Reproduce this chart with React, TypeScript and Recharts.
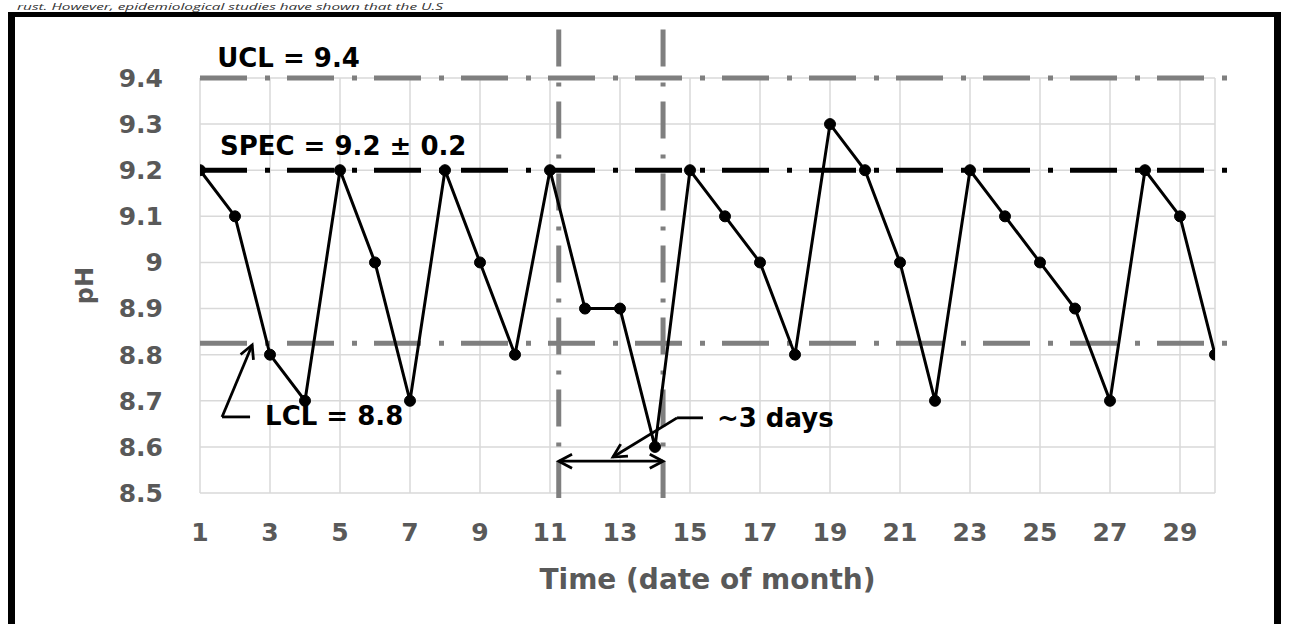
import React from 'react';
import {
  LineChart,
  Line,
  XAxis,
  YAxis,
  CartesianGrid,
  ReferenceLine,
} from 'recharts';

// ---- data ----
const days = [1, 2, 3, 4, 5, 6, 7, 8, 9, 10, 11, 12, 13, 14, 15, 16, 17, 18, 19, 20, 21, 22, 23, 24, 25, 26, 27, 28, 29, 30];
const phValues = [9.2, 9.1, 8.8, 8.7, 9.2, 9.0, 8.7, 9.2, 9.0, 8.8, 9.2, 8.9, 8.9, 8.6, 9.2, 9.1, 9.0, 8.8, 9.3, 9.2, 9.0, 8.7, 9.2, 9.1, 9.0, 8.9, 8.7, 9.2, 9.1, 8.8];
const xTicks = [1, 3, 5, 7, 9, 11, 13, 15, 17, 19, 21, 23, 25, 27, 29];
const yTicks = [8.5, 8.6, 8.7, 8.8, 8.9, 9.0, 9.1, 9.2, 9.3, 9.4];

// control lines (LCL is drawn slightly above 8.8 in the original)
const UCL = 9.4;
const SPEC = 9.2;
const LCL_DRAWN = 8.825;
const limitStartDay = 1;
const limitEndDay = 30.45;

// downtime window (vertical dash-dot lines)
const windowDays = [11.25, 14.23];
const windowTop = 9.505;
const windowBottom = 8.489;
const spanArrowPh = 8.569;

// annotation texts: [text, day, pH baseline]
const annotations: [string, number, number][] = [
  ['UCL = 9.4', 1.49, 9.424],
  ['SPEC = 9.2 ± 0.2', 1.57, 9.233],
  ['LCL = 8.8', 2.86, 8.648],
  ['~3 days', 15.77, 8.643],
];

// LCL leader: horizontal then arrow
const lclLeader = [
  { day: 2.43, ph: 8.665 },
  { day: 1.63, ph: 8.665 },
  { day: 2.49, ph: 8.821 },
];
// "~3 days" leader
const daysLeader = [
  { day: 15.37, ph: 8.663 },
  { day: 14.63, ph: 8.663 },
  { day: 12.8, ph: 8.578 },
];

const chartData = days.map((d, i) => ({ day: d, ph: phValues[i] }));

const GRAY = '#7f7f7f';
const TICK_COLOR = '#595959';
const FONT = "'DejaVu Sans', Verdana, sans-serif";
const DASH = '47 18 5 17';
const VDASH = '37 16 4 15';

function arrowHead(x: number, y: number, fromX: number, fromY: number, stroke: string) {
  const ang = Math.atan2(y - fromY, x - fromX);
  const len = 15;
  const spread = Math.PI / 6.5;
  const ax = x - len * Math.cos(ang - spread);
  const ay = y - len * Math.sin(ang - spread);
  const bx = x - len * Math.cos(ang + spread);
  const by = y - len * Math.sin(ang + spread);
  return (
    <path
      d={`M${ax},${ay} L${x},${y} L${bx},${by}`}
      fill="none"
      stroke={stroke}
      strokeWidth={2.8}
      strokeLinejoin="miter"
    />
  );
}

const makeArrow = (heads: 'none' | 'end' | 'both') => (p: any) => {
  const { x1, y1, x2, y2 } = p;
  return (
    <g>
      <line x1={x1} y1={y1} x2={x2} y2={y2} stroke="#000" strokeWidth={2.8} />
      {heads !== 'none' && arrowHead(x2, y2, x1, y1, '#000')}
      {heads === 'both' && arrowHead(x1, y1, x2, y2, '#000')}
    </g>
  );
};

const textShape = (label: string) => (p: any) => (
  <text
    x={p.x1}
    y={p.y1}
    fill="#000"
    fontFamily={FONT}
    fontWeight="bold"
    fontSize={26}
    textAnchor="start"
  >
    {label}
  </text>
);

const tickStyle = {
  fontFamily: FONT,
  fontWeight: 'bold' as const,
  fontSize: 25,
  fill: TICK_COLOR,
};

export default function App() {
  return (
    <div
      style={{
        position: 'absolute',
        left: 0,
        top: 0,
        width: 1289,
        height: 624,
        overflow: 'hidden',
        background: '#fff',
      }}
    >
      <svg
        width={1289}
        height={13}
        style={{ position: 'absolute', left: 0, top: 0 }}
      >
        <text
          x={17}
          y={9.8}
          fontFamily="'Open Sans', sans-serif"
          fontStyle="italic"
          fontSize={9}
          fill="#333"
          textLength={426}
          lengthAdjust="spacingAndGlyphs"
        >
          rust. However, epidemiological studies have shown that the U.S
        </text>
      </svg>
      <div
        style={{
          position: 'absolute',
          left: 8,
          top: 12,
          width: 1273,
          height: 700,
          boxSizing: 'border-box',
          borderTop: '5px solid #000',
          borderLeft: '7px solid #000',
          borderRight: '7px solid #000',
        }}
      />
      <div style={{ position: 'absolute', left: 0, top: 0 }}>
        <LineChart
          width={1289}
          height={624}
          data={chartData}
          margin={{ top: 78, right: 74, bottom: 0, left: 0 }}
        >
          <CartesianGrid stroke="#d9d9d9" strokeWidth={1.5} />
          <XAxis
            dataKey="day"
            type="number"
            domain={[1, 30]}
            ticks={xTicks}
            allowDataOverflow
            axisLine={false}
            tickLine={false}
            tickSize={0}
            tickMargin={30}
            height={131}
            tick={tickStyle}
            interval={0}
            label={(props: any) => {
              const vb = props.viewBox || {};
              return (
                <text
                  x={vb.x + vb.width / 2}
                  y={vb.y + 96}
                  textAnchor="middle"
                  fontFamily={FONT}
                  fontWeight="bold"
                  fontSize={28}
                  fill={TICK_COLOR}
                >
                  Time (date of month)
                </text>
              );
            }}
          />
          <YAxis
            type="number"
            domain={[8.5, 9.4]}
            ticks={yTicks}
            allowDataOverflow
            axisLine={false}
            tickLine={false}
            tickSize={0}
            tickMargin={37}
            width={200}
            tick={tickStyle}
            interval={0}
            tickFormatter={(v: number) => String(v)}
            label={(props: any) => {
              const vb = props.viewBox || {};
              const cy = vb.y + vb.height / 2;
              return (
                <text
                  x={vb.x + 93}
                  y={cy}
                  transform={`rotate(-90, ${vb.x + 93}, ${cy})`}
                  textAnchor="middle"
                  fontFamily={FONT}
                  fontWeight="bold"
                  fontSize={24}
                  fill={TICK_COLOR}
                >
                  pH
                </text>
              );
            }}
          />

          {/* control limit lines */}
          <ReferenceLine
            segment={[{ x: limitStartDay, y: UCL }, { x: limitEndDay, y: UCL }]}
            stroke={GRAY}
            strokeWidth={5}
            strokeDasharray={DASH}
            ifOverflow="visible"
          />
          <ReferenceLine
            segment={[{ x: limitStartDay, y: LCL_DRAWN }, { x: limitEndDay, y: LCL_DRAWN }]}
            stroke={GRAY}
            strokeWidth={5}
            strokeDasharray={DASH}
            ifOverflow="visible"
          />
          {windowDays.map((d) => (
            <ReferenceLine
              key={'w' + d}
              segment={[{ x: d, y: windowTop }, { x: d, y: windowBottom }]}
              stroke={GRAY}
              strokeWidth={5}
              strokeDasharray={VDASH}
              ifOverflow="visible"
            />
          ))}
          <ReferenceLine
            segment={[{ x: limitStartDay, y: SPEC }, { x: limitEndDay, y: SPEC }]}
            stroke="#000"
            strokeWidth={5}
            strokeDasharray={DASH}
            ifOverflow="visible"
          />

          <Line
            dataKey="ph"
            type="linear"
            stroke="#000"
            strokeWidth={3}
            dot={{ r: 5.5, fill: '#000', stroke: '#000', strokeWidth: 1 }}
            activeDot={false}
            isAnimationActive={false}
          />

          {/* annotation arrows */}
          <ReferenceLine
            segment={[
              { x: lclLeader[0].day, y: lclLeader[0].ph },
              { x: lclLeader[1].day, y: lclLeader[1].ph },
            ]}
            shape={makeArrow('none')}
            ifOverflow="visible"
          />
          <ReferenceLine
            segment={[
              { x: lclLeader[1].day, y: lclLeader[1].ph },
              { x: lclLeader[2].day, y: lclLeader[2].ph },
            ]}
            shape={makeArrow('end')}
            ifOverflow="visible"
          />
          <ReferenceLine
            segment={[
              { x: daysLeader[0].day, y: daysLeader[0].ph },
              { x: daysLeader[1].day, y: daysLeader[1].ph },
            ]}
            shape={makeArrow('none')}
            ifOverflow="visible"
          />
          <ReferenceLine
            segment={[
              { x: daysLeader[1].day, y: daysLeader[1].ph },
              { x: daysLeader[2].day, y: daysLeader[2].ph },
            ]}
            shape={makeArrow('end')}
            ifOverflow="visible"
          />
          <ReferenceLine
            segment={[
              { x: windowDays[0], y: spanArrowPh },
              { x: windowDays[1], y: spanArrowPh },
            ]}
            shape={makeArrow('both')}
            ifOverflow="visible"
          />

          {annotations.map(([label, d, v]) => (
            <ReferenceLine
              key={label}
              segment={[{ x: d, y: v }, { x: d + 0.01, y: v }]}
              ifOverflow="visible"
              shape={textShape(label)}
            />
          ))}
        </LineChart>
      </div>
    </div>
  );
}
